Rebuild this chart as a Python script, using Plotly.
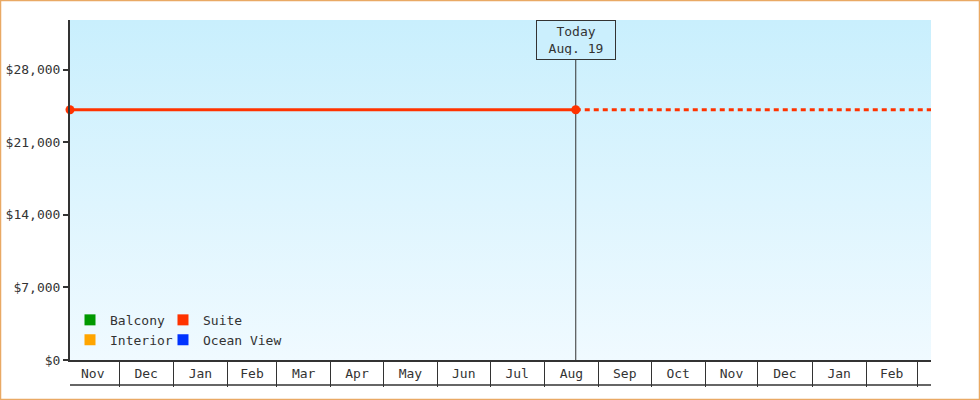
import plotly.graph_objects as go

# price history for the cabin categories
categories = ["Balcony", "Interior", "Suite", "Ocean View"]
category_colors = ["#009900", "#ffa500", "#ff3300", "#0033ff"]

suite_dates = ["2018-11-03", "2019-08-19"]
suite_prices = [24140, 24140]

projection_dates = ["2019-08-19", "2020-03-09"]
projection_prices = [24140, 24140]

today = "2019-08-19"
today_label = "Today<br>Aug. 19"

x_range = ["2018-11-03", "2020-03-09"]
y_max = 32800

W, H = 980, 400
ML, MR, MT, MB = 70, 49, 20, 40
PW, PH = W - ML - MR, H - MT - MB
CELL = 25
FONT = dict(family="DejaVu Sans Mono", size=13, color="#333")

fig = go.Figure()

# gradient plot background
fig.add_trace(go.Scatter(
    x=x_range, y=[y_max, y_max], mode="none", fill="tozeroy",
    fillgradient=dict(type="vertical", colorscale=[[0, "#f0faff"], [1, "#c9effd"]]),
    showlegend=False, hoverinfo="skip"))

# today marker line
fig.add_trace(go.Scatter(
    x=[today, today], y=[0, y_max], mode="lines",
    line=dict(color="#333", width=1), showlegend=False, hoverinfo="skip"))

fig.add_trace(go.Scatter(
    x=projection_dates, y=projection_prices, mode="lines",
    line=dict(color="#ff3300", width=3, dash="5px,4px"),
    showlegend=False, hoverinfo="skip"))
fig.add_trace(go.Scatter(
    x=suite_dates, y=suite_prices, mode="lines+markers",
    line=dict(color="#ff3300", width=3),
    marker=dict(color="#ff3300", size=9),
    showlegend=False, hoverinfo="skip", cliponaxis=False))

# legend entries, two columns
for i, (name, col) in enumerate(zip(categories, category_colors)):
    fig.add_trace(go.Scatter(
        x=[None], y=[None], mode="markers", name=name,
        marker=dict(symbol="square", size=11, color=col),
        legend="legend" if i < 2 else "legend2"))

legend_common = dict(font=FONT, bgcolor="rgba(0,0,0,0)", tracegroupgap=0,
                     itemwidth=30, yanchor="bottom", xanchor="left", y=0.015)

fig.update_layout(
    width=W, height=H,
    margin=dict(l=ML, r=MR, t=MT, b=MB),
    paper_bgcolor="white", plot_bgcolor="white",
    font=FONT,
    hovermode=False,
    legend=dict(x=0.0, **legend_common),
    legend2=dict(x=0.108, **legend_common),
    xaxis=dict(
        range=x_range, type="date", showgrid=False, zeroline=False,
        showline=True, linecolor="#333", linewidth=1.5,
        ticks="outside", ticklen=CELL, tickwidth=1, tickcolor="#333",
        dtick="M1", tick0="2018-11-01", tickformat="%b",
        ticklabelmode="period", ticklabelstandoff=-24, automargin=False,
    ),
    yaxis=dict(
        range=[0, y_max], showgrid=False, zeroline=False,
        showline=True, linecolor="#333", linewidth=2,
        ticks="outside", ticklen=5, tickwidth=2, tickcolor="#333",
        dtick=7000, tickprefix="$", tickformat=",d", automargin=False,
    ),
)

fig.add_annotation(
    x=today, y=1, xref="x", yref="paper", yanchor="top",
    text=today_label, showarrow=False, font=FONT,
    bordercolor="#333", borderwidth=1, borderpad=4,
    bgcolor="#cbeffd", width=70, height=30)

# bottom edge of the month cells
fig.add_shape(type="line", xref="paper", yref="paper",
              x0=0, x1=1, y0=-CELL / PH, y1=-CELL / PH,
              line=dict(color="#333", width=1.5))

# outer frame
fig.add_shape(type="rect", xref="paper", yref="paper",
              x0=-(ML - 0.5) / PW, x1=1 + (MR - 0.5) / PW,
              y0=-(MB - 0.5) / PH, y1=1 + (MT - 0.5) / PH,
              line=dict(color="#e9a964", width=1.5))

fig.write_html("out.html", config={"displayModeBar": False},
               post_script="document.body.style.margin='0';"
               "document.body.style.overflow='hidden';")
